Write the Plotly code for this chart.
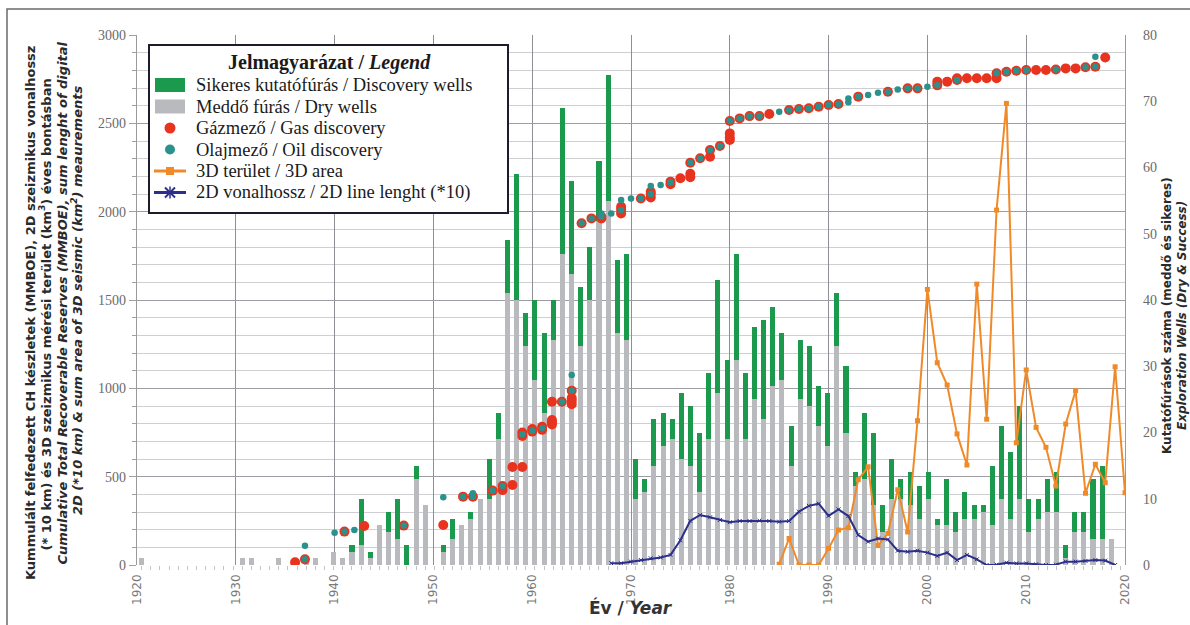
import plotly.graph_objects as go

# ---------------- DATA ----------------
# Exploration wells per bar slot (the bar series uses its own category axis with 108 slots)
dry_wells = [1, 0, 0, 0, 0, 0, 0, 0, 0, 0, 0, 1, 1, 0, 0, 1, 0, 0, 1, 1,
             0, 2, 1, 2, 3, 1, 6, 5, 4, 0, 13, 9, 0, 2, 4, 6, 7, 10, 10, 19,
             41, 40, 33, 28, 23, 34, 47, 44, 33, 40, 52, 55, 35, 34, 10, 11, 15, 18, 19, 16,
             15, 11, 19, 26, 19, 31, 19, 25, 22, 27, 28, 15, 25, 24, 21, 18, 33, 20, 12, 13,
             9, 5, 10, 10, 9, 7, 10, 6, 6, 5, 7, 7, 8, 6, 10, 7, 10, 5, 7, 8,
             8, 1, 5, 5, 4, 4, 4, 0]
success_wells = [0, 0, 0, 0, 0, 0, 0, 0, 0, 0, 0, 0, 0, 0, 0, 0, 0, 0, 0, 0,
                 0, 0, 0, 1, 7, 1, 0, 3, 6, 3, 2, 0, 0, 1, 3, 0, 1, 0, 6, 4,
                 8, 19, 5, 12, 12, 6, 22, 14, 9, 8, 9, 19, 11, 13, 6, 2, 7, 5, 3, 10,
                 9, 9, 10, 17, 12, 16, 10, 11, 15, 12, 7, 6, 9, 9, 6, 8, 8, 10, 2, 10,
                 11, 4, 6, 3, 5, 5, 4, 1, 7, 3, 4, 2, 1, 9, 11, 10, 14, 5, 3, 5,
                 6, 2, 3, 3, 9, 11, 0, 0]
bar_slot = list(range(len(dry_wells)))

# Cumulative reserves (MMBOE) at gas discoveries
gas_year = [1936, 1937, 1941, 1943, 1947, 1951, 1953, 1954, 1956, 1957, 1957, 1958, 1958,
            1959, 1959, 1959, 1960, 1960, 1961, 1961, 1962, 1962, 1962, 1962, 1963,
            1964, 1964, 1964, 1964, 1965, 1966, 1967, 1967, 1969, 1969, 1969, 1971,
            1972, 1972, 1972, 1974, 1974, 1975, 1976, 1976, 1976, 1977, 1978, 1978, 1979,
            1980, 1980, 1980, 1980, 1981, 1982, 1983, 1984, 1986, 1987, 1988, 1989, 1990,
            1991, 1993, 1996, 1998, 1999, 2001, 2001, 2002, 2003, 2003, 2004, 2005, 2006,
            2007, 2007, 2008, 2009, 2010, 2011, 2012, 2013, 2014, 2015, 2016, 2017, 2018]
gas_mmboe = [15, 32, 189, 221, 223, 226, 387, 387, 421, 424, 447, 453, 555,
             555, 730, 750, 755, 770, 765, 783, 795, 808, 821, 924, 924,
             910, 930, 945, 987, 1934, 1962, 1962, 1971, 1990, 2010, 2028, 2075,
             2080, 2100, 2113, 2155, 2170, 2189, 2195, 2215, 2277, 2302, 2311, 2349, 2372,
             2406, 2420, 2443, 2513, 2528, 2541, 2541, 2553, 2575, 2581, 2585, 2594, 2604,
             2609, 2651, 2679, 2698, 2698, 2715, 2736, 2736, 2745, 2755, 2755, 2755, 2755,
             2755, 2783, 2792, 2798, 2802, 2802, 2802, 2805, 2811, 2811, 2817, 2820, 2873]

# Cumulative reserves (MMBOE) at oil discoveries
oil_year = [1937, 1937, 1940, 1941, 1942, 1947, 1951, 1953, 1954, 1954, 1956, 1957, 1959,
            1960, 1961, 1963, 1964, 1964, 1965, 1966, 1967, 1967, 1968, 1969, 1969, 1970,
            1971, 1972, 1972, 1973, 1974, 1976, 1977, 1978, 1979, 1980, 1981, 1982, 1983,
            1985, 1986, 1987, 1988, 1989, 1990, 1991, 1992, 1992, 1993, 1994, 1995, 1996,
            1997, 1998, 1999, 2000, 2001, 2003, 2007, 2008, 2009, 2010, 2013, 2016, 2017, 2017]
oil_mmboe = [32, 109, 183, 189, 198, 223, 383, 387, 387, 406, 421, 447, 740,
             760, 775, 924, 987, 1075, 1934, 1962, 1971, 1990, 1990, 2010, 2066, 2075,
             2075, 2100, 2145, 2151, 2165, 2277, 2302, 2349, 2372, 2513, 2528, 2541, 2541,
             2566, 2575, 2581, 2585, 2594, 2604, 2609, 2620, 2641, 2651, 2660, 2673, 2679,
             2692, 2698, 2698, 2707, 2715, 2745, 2783, 2792, 2798, 2802, 2805, 2817, 2820, 2877]

# 3D seismic area (km2) per year
area3d_year = list(range(1985, 2021))
area3d_km2 = [5, 150, 0, 0, 0, 94, 198, 211, 483, 556, 110, 179, 426, 187, 817, 1560,
              1145, 1019, 742, 566, 1590, 825, 2009, 2613, 692, 1104, 779, 666, 447, 798,
              987, 406, 570, 466, 1122, 409]

# 2D seismic line length (*10 km) per year
line2d_year = list(range(1968, 2020))
line2d_len = [10, 10, 19, 28, 38, 43, 57, 140, 250, 283, 270, 255, 242, 249, 249, 251,
              249, 245, 249, 302, 335, 347, 278, 315, 277, 170, 132, 150, 145, 81, 75, 81,
              70, 51, 70, 28, 57, 32, 0, 2, 13, 9, 9, 4, 0, 2, 19, 19, 23, 28, 25, 0]

legend_title = "<b>Jelmagyarázat / <i>Legend</i></b>"
legend_labels = ["Sikeres kutatófúrás / Discovery wells",
                 "Meddő fúrás / Dry wells",
                 "Gázmező / Gas discovery",
                 "Olajmező / Oil discovery",
                 "3D terület / 3D area",
                 "2D vonalhossz / 2D line lenght (*10)"]

left_title_lines = ["<b>Kummulált felfedezett CH készletek (MMBOE), 2D szeizmikus vonalhossz</b>",
                    "<b>(* 10 km) és 3D szeizmikus mérési terület (km<sup>3</sup>) éves bontásban</b>",
                    "<b><i>Cumulative Total Recoverable Reserves (MMBOE), sum lenght of digital</i></b>",
                    "<b><i>2D (*10 km) &amp; sum area of 3D seismic (km<sup>2</sup>) meaurements</i></b>"]
right_title_lines = ["<b>Kutatófúrások száma (meddő és sikeres)</b>",
                     "<b><i>Exploration Wells (Dry &amp; Success)</i></b>"]
x_title = "<b>Év / <i>Year</i></b>"

# ---------------- STYLE ----------------
GREEN = "#1b9a4e"
GRAY = "#b9babe"
RED = "#e8341f"
TEAL = "#2a918c"
ORANGE = "#f08a28"
NAVY = "#2c2f8c"
SERIF = "Liberation Serif"
SANS = "DejaVu Sans"

fig = go.Figure()

# Bars (base subplot: category slots + well-count axis on the right)
fig.add_trace(go.Bar(x=bar_slot, y=dry_wells, name=legend_labels[1],
                     marker=dict(color=GRAY, line=dict(width=0)), width=0.55,
                     xaxis="x", yaxis="y", showlegend=False))
fig.add_trace(go.Bar(x=bar_slot, y=success_wells, name=legend_labels[0],
                     marker=dict(color=GREEN, line=dict(width=0)), width=0.55,
                     xaxis="x", yaxis="y", showlegend=False))

# Overlay subplot: years + MMBOE axis on the left
fig.add_trace(go.Scatter(x=gas_year, y=gas_mmboe, mode="markers", name=legend_labels[2],
                         marker=dict(color=RED, size=10, line=dict(width=0)),
                         xaxis="x2", yaxis="y2", showlegend=False))
fig.add_trace(go.Scatter(x=oil_year, y=oil_mmboe, mode="markers", name=legend_labels[3],
                         marker=dict(color=TEAL, size=6.5, line=dict(width=0)),
                         xaxis="x2", yaxis="y2", showlegend=False))
fig.add_trace(go.Scatter(x=area3d_year, y=area3d_km2, mode="lines+markers", name=legend_labels[4],
                         line=dict(color=ORANGE, width=2),
                         marker=dict(color=ORANGE, size=5, symbol="square"),
                         xaxis="x2", yaxis="y2", showlegend=False))
fig.add_trace(go.Scatter(x=line2d_year, y=line2d_len, mode="lines+markers", name=legend_labels[5],
                         line=dict(color=NAVY, width=2),
                         marker=dict(color=NAVY, size=4, symbol="x-thin-open", line=dict(width=1, color=NAVY)),
                         xaxis="x2", yaxis="y2", showlegend=False))

L, R, T, B = 137, 65, 35, 60
W, H = 1190, 625
pw, ph = W - L - R, H - T - B


def px(xp):
    return (xp - L) / pw


def py(yp):
    return (H - B - yp) / ph


shapes = [dict(type="rect", xref="paper", yref="paper",
               x0=px(7), x1=px(1200), y0=py(640), y1=py(9),
               line=dict(color="#6a6a6a", width=1.5), fillcolor="rgba(0,0,0,0)", layer="below")]
annotations = []

# ---- hand-built legend box (matches the Excel-style legend) ----
shapes.append(dict(type="rect", xref="paper", yref="paper",
                   x0=px(149), x1=px(508), y0=py(213), y1=py(45),
                   line=dict(color="#1c1c2c", width=2), fillcolor="white", layer="above"))
annotations.append(dict(xref="paper", yref="paper", x=px(329), y=py(63), xanchor="center", yanchor="middle",
                        text=legend_title, showarrow=False,
                        font=dict(family=SERIF, size=20, color="#1a1a1a")))
row_y = [85, 106.5, 128, 149.5, 171, 192.5]
for k, lab in enumerate(legend_labels):
    annotations.append(dict(xref="paper", yref="paper", x=px(194), y=py(row_y[k]),
                            xanchor="left", yanchor="middle", text=lab, showarrow=False,
                            font=dict(family=SERIF, size=18.5, color="#1a1a1a")))
# symbols
shapes.append(dict(type="rect", xref="paper", yref="paper", x0=px(155), x1=px(185),
                   y0=py(row_y[0] + 7), y1=py(row_y[0] - 7), line=dict(width=0), fillcolor=GREEN, layer="above"))
shapes.append(dict(type="rect", xref="paper", yref="paper", x0=px(155), x1=px(185),
                   y0=py(row_y[1] + 7), y1=py(row_y[1] - 7), line=dict(width=0), fillcolor=GRAY, layer="above"))
shapes.append(dict(type="circle", xref="paper", yref="paper", x0=px(164.5), x1=px(175.5),
                   y0=py(row_y[2] + 5.5), y1=py(row_y[2] - 5.5), line=dict(width=0), fillcolor=RED, layer="above"))
shapes.append(dict(type="circle", xref="paper", yref="paper", x0=px(165), x1=px(175),
                   y0=py(row_y[3] + 5), y1=py(row_y[3] - 5), line=dict(width=0), fillcolor=TEAL, layer="above"))
shapes.append(dict(type="line", xref="paper", yref="paper", x0=px(154), x1=px(186),
                   y0=py(row_y[4]), y1=py(row_y[4]), line=dict(color=ORANGE, width=3), layer="above"))
shapes.append(dict(type="rect", xref="paper", yref="paper", x0=px(166), x1=px(174),
                   y0=py(row_y[4] + 4), y1=py(row_y[4] - 4), line=dict(width=0), fillcolor=ORANGE, layer="above"))
shapes.append(dict(type="line", xref="paper", yref="paper", x0=px(154), x1=px(186),
                   y0=py(row_y[5]), y1=py(row_y[5]), line=dict(color=NAVY, width=3), layer="above"))
for dx, dy in [(5, 5), (5, -5)]:
    shapes.append(dict(type="line", xref="paper", yref="paper", x0=px(170 - dx), x1=px(170 + dx),
                       y0=py(row_y[5] - dy), y1=py(row_y[5] + dy), line=dict(color=NAVY, width=2), layer="above"))
shapes.append(dict(type="line", xref="paper", yref="paper", x0=px(170), x1=px(170),
                   y0=py(row_y[5] - 6), y1=py(row_y[5] + 6), line=dict(color=NAVY, width=1.5), layer="above"))

# ---- axis titles (one annotation per line) ----
left_x = [30, 45.5, 61.5, 77]
left_y = [313, 315, 303, 301]
for k, t in enumerate(left_title_lines):
    annotations.append(dict(xref="paper", yref="paper", x=px(left_x[k]), y=py(left_y[k]),
                            xanchor="center", yanchor="middle", textangle=-90, showarrow=False,
                            text=t, font=dict(family=SANS, size=13, color="#2a2a2a")))
right_x = [1167, 1182]
for k, t in enumerate(right_title_lines):
    annotations.append(dict(xref="paper", yref="paper", x=px(right_x[k]), y=py(316),
                            xanchor="center", yanchor="middle", textangle=-90, showarrow=False,
                            text=t, font=dict(family=SANS, size=12, color="#2a2a2a")))
annotations.append(dict(xref="paper", yref="paper", x=px(631), y=py(607), xanchor="center", yanchor="middle",
                        showarrow=False, text=x_title,
                        font=dict(family=SANS, size=17, color="#333333")))

fig.update_layout(
    width=W, height=H,
    margin=dict(l=L, r=R, t=T, b=B),
    paper_bgcolor="white", plot_bgcolor="white",
    barmode="stack",
    bargap=0,
    showlegend=False,
    xaxis=dict(range=[-0.5, 107.5], showgrid=False, zeroline=False, showticklabels=False,
               ticks="outside", tick0=0, dtick=1, ticklen=4, tickcolor="#c4c4c4",
               showline=False),
    yaxis=dict(range=[0, 80], side="right", dtick=10, showgrid=False, zeroline=False,
               ticks="", ticklabelstandoff=14, showline=True, linecolor="#9a9a9a", linewidth=1.2,
               tickfont=dict(family=SERIF, size=14, color="#6a6a6a")),
    xaxis2=dict(range=[1920, 2020], overlaying="x", anchor="y2", side="bottom",
                dtick=10, tick0=1920, showgrid=True, gridcolor="#8e8e94", gridwidth=1.3,
                zeroline=False, ticks="", tickangle=-90, ticklabelstandoff=6,
                tickfont=dict(family=SANS, size=12, color="#7a7a7a"), showline=False),
    yaxis2=dict(range=[0, 3000], overlaying="y", side="left", anchor="x2",
                dtick=500, showgrid=True, gridcolor="#9c9ca2", gridwidth=1.3,
                minor=dict(dtick=100, showgrid=True, gridcolor="#cfcfd3", gridwidth=1,
                           ticks="outside", ticklen=4, tickcolor="#a0a0a0"),
                zeroline=False, ticks="outside", ticklen=7, tickcolor="#a0a0a0",
                showline=True, linecolor="#9a9a9a", linewidth=1.2,
                tickfont=dict(family=SERIF, size=14, color="#6a6a6a")),
    shapes=shapes,
    annotations=annotations,
)

fig.write_html("out.html")
